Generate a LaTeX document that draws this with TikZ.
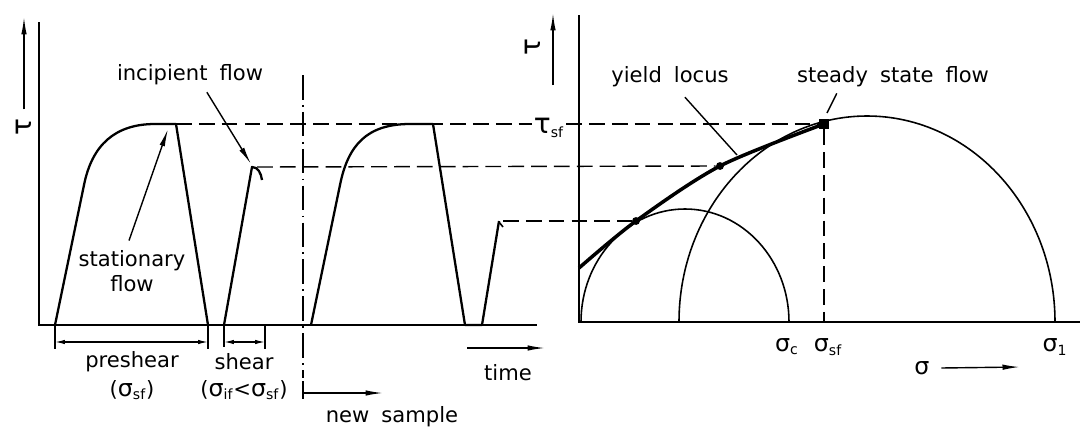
\documentclass[tikz,border=0pt]{standalone}
\usepackage{fontspec}
\setmainfont{DejaVu Sans}[WordSpace=1.8]
\usetikzlibrary{arrows.meta}
\newcommand{\subsc}[1]{\textsubscript{#1}}
\newcommand{\bigtau}{{\fontsize{16}{16}\selectfont τ}}
\newcommand{\bigsig}{{\fontsize{13.5}{14}\selectfont σ}}

\begin{document}
\begin{tikzpicture}[x=0.02cm, y=-0.02cm, every node/.style={font=\fontsize{12}{14}\selectfont, inner sep=1pt},
	>={Latex[length=3.5mm,width=1.1mm]},
	curve/.style={line width=1.3pt, line join=round},
	lvl/.style={line width=0.8pt, dash pattern=on 9pt off 4pt},
	dot/.style={circle, fill, inner sep=0pt, minimum size=4.5pt},
	dim/.style={line width=0.7pt, {Latex[length=2mm,width=0.9mm]}-{Latex[length=2mm,width=0.9mm]}}]
	\useasboundingbox (0,0) rectangle (1086,433);
	% time chart
	\draw[line width=1pt] (39,22) -- (39,325) -- (537,325);
	\node[rotate=90] (tauL) at (24,127) {\bigtau};
	\coordinate (tauLtop) at (24,17);
	\draw[->, line width=0.8pt] ([yshift=4pt]tauL.east) -- (tauLtop);
	\coordinate (pk1) at (176,124);
	\coordinate (incip) at (257,167);
	\coordinate (test2) at (503,221);
	\draw[curve] (55,325) -- (84,185) .. controls (92,145) and (115,124) .. (155,124) -- (pk1) -- (208,325);
	\draw[curve] (224,325) -- (252,167) .. controls (258,167) and (261,173) .. (262,180);
	\draw[curve] (311,325) -- (340,185) .. controls (348,145) and (367,124) .. (410,124) -- (433,124) -- (465,325) -- (482,325) -- (499,221);
	\draw[line width=0.9pt] (499,222) -- (503,227);
	% labels of the time chart
	\node (lblIncip) at (190,75) {incipient flow};
	\coordinate (incipTip) at (251,164);
	\draw[->, line width=0.8pt] ([xshift=9.6pt, yshift=-2.8pt]lblIncip.south) -- (incipTip);
	\node[align=center] (lblStat) at (132,271) {stationary\\flow};
	\coordinate (statTip) at (168,129);
	\draw[->, line width=0.8pt] ([xshift=-1.7pt, yshift=4.5pt]lblStat.north) -- (statTip);
	% preshear and shear
	\draw[line width=0.7pt] (55,325) -- (55,349) (208,325) -- (208,349) (224,325) -- (224,347) (265,325) -- (265,349);
	\draw[dim] (55,342) -- (208,342);
	\draw[dim] (224,342) -- (265,342);
	\node (lblPre) at (132,362) {preshear};
	\node (lblPreS) at (132,390) {(\bigsig\subsc{sf})};
	\node (lblShear) at (244,362) {shear};
	\node (lblShearS) at (244,390) {(\bigsig\subsc{if}<\bigsig\subsc{sf})};
	% new sample
	\draw[line width=0.8pt, dash pattern=on 14pt off 3pt on 1pt off 3pt] (303,75) -- (303,378);
	\draw[line width=0.8pt] (303,381) -- (303,399);
	\coordinate (newA) at (303,393);
	\coordinate (newB) at (383,393);
	\draw[->, line width=0.8pt] (newA) -- (newB);
	\node (lblNew) at (392,417) {new sample};
	% time
	\coordinate (timeA) at (467,348);
	\coordinate (timeB) at (545,348);
	\draw[->, line width=0.8pt] (timeA) -- (timeB);
	\node (lblTime) at (508,373) {time};
	% Mohr diagram
	\draw[line width=1pt] (579,15) -- (579,322) -- (1080,322);
	\node[rotate=90] (tauR) at (533,47) {\bigtau};
	\coordinate (tauRbot) at (553,85);
	\coordinate (tauRtop) at (553,13);
	\draw[->, line width=0.8pt] (tauRbot) -- (tauRtop);
	\node (tsf) at (549,128) {\bigtau\subsc{sf}};
	\draw[line width=0.9pt] (581,322) arc[start angle=180, end angle=360, x radius=104, y radius=113];
	\draw[line width=0.9pt] (679,322) arc[start angle=180, end angle=360, x radius=188, y radius=206];
	\draw[line width=2pt] plot[smooth] coordinates {(579,268) (636,221) (720,166) (824,124)};
	\node[dot] (pC) at (636,221) {};
	\node[dot] (pB) at (720,166) {};
	\node[fill, inner sep=0pt, minimum size=5.5pt] (sq) at (824,124) {};
	\coordinate (sfBase) at (824,322);
	% levels
	\draw[lvl] (pk1) -- (tsf.west |- pk1);
	\draw[lvl] (tsf.east |- pk1) -- (sq);
	\draw[lvl] (incip) -- (pB);
	\draw[lvl] (test2) -- (pC);
	\draw[lvl] (sq) -- (sfBase);
	% labels of the Mohr diagram
	\node (lblYield) at (670,77) {yield locus};
	\coordinate (yieldTip) at (737,155);
	\draw[line width=0.8pt] ([xshift=8.5pt, yshift=-4.5pt]lblYield.south) -- (yieldTip);
	\node (lblSteady) at (893,77) {steady state flow};
	\coordinate (steadyTip) at (827,113);
	\draw[line width=0.8pt] ([xshift=-32pt, yshift=-2.3pt]lblSteady.south) -- (steadyTip);
	\node (sigc) at (787,347) {\bigsig\subsc{c}};
	\node (sigsf) at (828,347) {\bigsig\subsc{sf}};
	\node (sig1) at (1055,347) {\bigsig\subsc{1}};
	\node (sigAx) at (922,368) {\bigsig};
	\coordinate (sigTip) at (1020,367);
	\draw[->, line width=0.8pt] ([xshift=5.5pt]sigAx.east) -- (sigTip);
\end{tikzpicture}
\end{document}
